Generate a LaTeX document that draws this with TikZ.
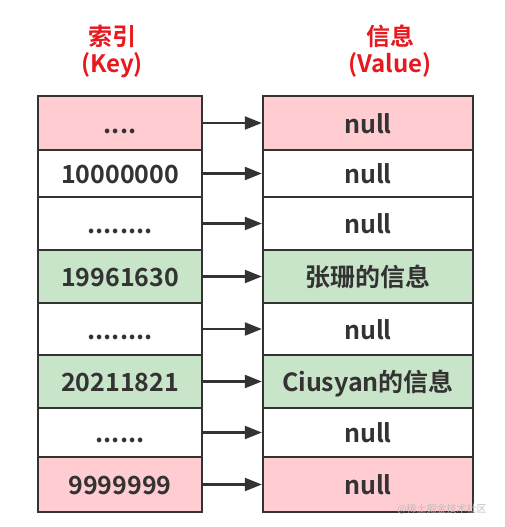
\documentclass[tikz,border=0pt]{standalone}
\usepackage{fontspec}
\setmainfont{Noto Sans CJK SC}[BoldFont={Noto Sans CJK SC Bold}]
\usetikzlibrary{arrows.meta}
\definecolor{pinkc}{HTML}{FFCCD2}
\definecolor{greenc}{HTML}{C9E5C9}
\definecolor{edgec}{HTML}{333333}
\definecolor{redc}{HTML}{E8191E}
\tikzset{
  cell/.style={draw=edgec, line width=2.4pt, inner sep=0pt, text=edgec,
    text height=20pt, text depth=0pt,
    font=\bfseries\fontsize{25}{29}\selectfont},
  kcell/.style={cell, minimum width=164pt},
  vcell/.style={cell, minimum width=210pt},
  pinkfill/.style={fill=pinkc},
  greenfill/.style={fill=greenc},
  ptr/.style={draw=edgec, line width=2.2pt, -{Triangle[length=17pt,width=13pt]}},
  title/.style={text=redc, font=\bfseries\fontsize{24}{28}\selectfont, inner sep=0pt},
}
\begin{document}
\begin{tikzpicture}[x=1pt,y=-1pt]
\useasboundingbox (0,0) rectangle (504,527);
\fill[white] (0,0) rectangle (504,527);
\node[title] (t1) at (112,36) {索引};
\node[title] (t2) at (112,65) {(Key)};
\node[title] (t3) at (390,36) {信息};
\node[title] (t4) at (390,65) {(Value)};
% rows: 96,150,197,250,303,355,408,457,512
\node[kcell,pinkfill,  minimum height=54pt] (k1) at (120,123) {....};
\node[kcell,           minimum height=47pt] (k2) at (120,173.5) {10000000};
\node[kcell,           minimum height=53pt] (k3) at (120,223.5) {........};
\node[kcell,greenfill, minimum height=53pt] (k4) at (120,276.5) {19961630};
\node[kcell,           minimum height=52pt] (k5) at (120,329) {........};
\node[kcell,greenfill, minimum height=53pt] (k6) at (120,381.5) {20211821};
\node[kcell,           minimum height=49pt] (k7) at (120,432.5) {......};
\node[kcell,pinkfill,  minimum height=55pt] (k8) at (120,484.5) {9999999};
\node[vcell,pinkfill,  minimum height=54pt] (v1) at (368,123) {null};
\node[vcell,           minimum height=47pt] (v2) at (368,173.5) {null};
\node[vcell,           minimum height=53pt] (v3) at (368,223.5) {null};
\node[vcell,greenfill, minimum height=53pt] (v4) at (368,276.5) {张珊的信息};
\node[vcell,           minimum height=52pt] (v5) at (368,329) {null};
\node[vcell,greenfill, minimum height=53pt] (v6) at (368,381.5) {Ciusyan的信息};
\node[vcell,           minimum height=49pt] (v7) at (368,432.5) {null};
\node[vcell,pinkfill,  minimum height=55pt] (v8) at (368,484.5) {null};
\foreach \i in {1,...,8} { \draw[ptr] (k\i.east) -- (v\i.west); }
\node[text=black!25, font=\fontsize{10}{12}\selectfont, inner sep=0pt] (wm) at (442,509) {@稀土掘金技术社区};
\end{tikzpicture}
\end{document}
